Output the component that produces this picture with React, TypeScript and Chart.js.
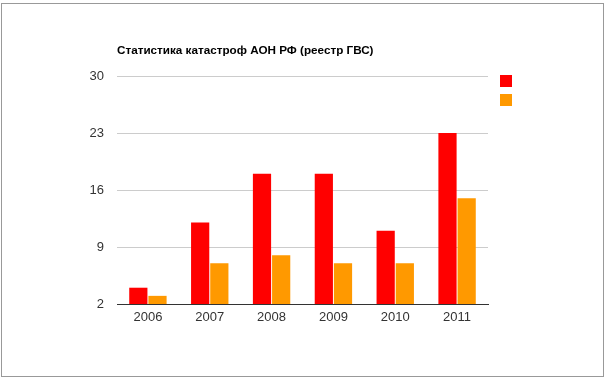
import React, { useEffect, useRef } from "react";
import { Chart, registerables } from "chart.js";

Chart.register(...registerables);

const title = "Статистика катастроф АОН РФ (реестр ГВС)";
const categories = ["2006", "2007", "2008", "2009", "2010", "2011"];
const seriesA = [4, 12, 18, 18, 11, 23];
const seriesB = [3, 7, 8, 7, 7, 15];
const yTicks = [2, 9, 16, 23, 30];
const colors = ["#ff0000", "#ff9900"];

export default function App() {
  const ref = useRef<HTMLCanvasElement | null>(null);
  useEffect(() => {
    if (!ref.current) return;
    const chart = new Chart(ref.current, {
      type: "bar",
      data: {
        labels: categories,
        datasets: [
          { label: "", data: seriesA, backgroundColor: colors[0], categoryPercentage: 0.62, barPercentage: 0.95 },
          { label: "", data: seriesB, backgroundColor: colors[1], categoryPercentage: 0.62, barPercentage: 0.95 },
        ],
      },
      options: {
        animation: false,
        responsive: false,
        maintainAspectRatio: false,
        layout: { padding: { left: 0, right: 117, top: 76, bottom: 53 } },
        plugins: { legend: { display: false }, tooltip: { enabled: false }, title: { display: false } },
        scales: {
          x: {
            grid: { display: false, drawTicks: false },
            border: { display: true, color: "#333333", width: 1 },
            ticks: { color: "#333333", font: { family: "Liberation Sans, Arial", size: 13 }, padding: 6 },
            afterFit: (s: any) => { s.height = 22; },
          },
          y: {
            min: yTicks[0],
            max: yTicks[yTicks.length - 1],
            afterBuildTicks: (s: any) => { s.ticks = yTicks.map((v) => ({ value: v })); },
            grid: { color: "#cccccc", drawTicks: false },
            border: { display: false },
            ticks: { color: "#333333", font: { family: "Liberation Sans, Arial", size: 13 }, padding: 13 },
            afterFit: (s: any) => { s.width = 117; },
          },
        },
      },
    });
    return () => chart.destroy();
  }, []);
  return (
    <div style={{ position: "fixed", left: 0, top: 0, width: 605, height: 379, background: "#fff" }}>
      <div style={{ position: "absolute", left: 1, top: 3, width: 601, height: 372, border: "1px solid #999" }} />
      <canvas ref={ref} width={605} height={379} style={{ position: "absolute", left: 0, top: 0 }} />
      <div style={{ position: "absolute", left: 117, top: 43, font: "bold 11.7px 'Liberation Sans', Arial", color: "#000", whiteSpace: "nowrap" }}>{title}</div>
      <div style={{ position: "absolute", left: 500, top: 75, width: 12, height: 12, background: colors[0] }} />
      <div style={{ position: "absolute", left: 500, top: 94, width: 12, height: 12, background: colors[1] }} />
    </div>
  );
}
